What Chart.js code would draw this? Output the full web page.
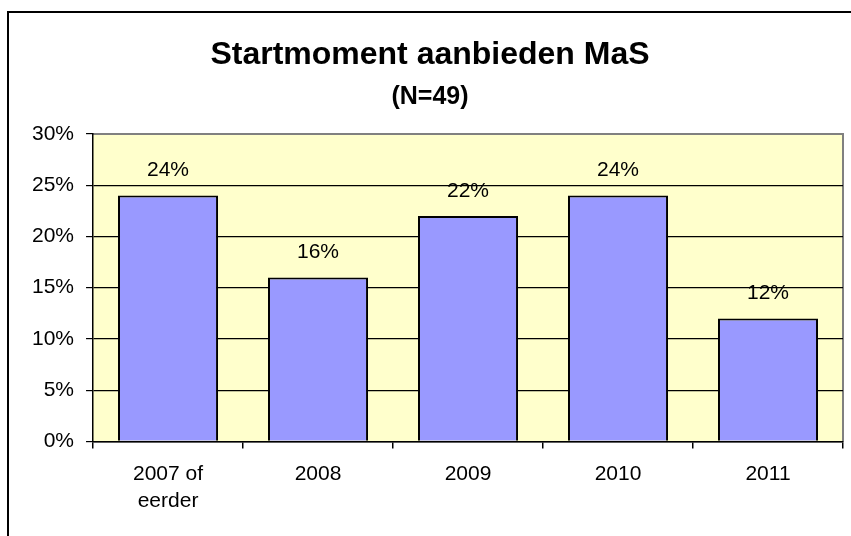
<!DOCTYPE html>
<html>
<head>
<meta charset="utf-8">
<script src="https://cdn.jsdelivr.net/npm/chart.js@4"></script>
<style>
  html, body { margin: 0; padding: 0; background: #fff; }
  #wrap { width: 851px; height: 536px; position: relative; }
</style>
</head>
<body>
<div id="wrap"><canvas id="chart"></canvas></div>
<script>
const categories = [['2007 of', 'eerder'], '2008', '2009', '2010', '2011']
const shares = [24, 16, 22, 24, 12]
const yMax = 30
const yStep = 5
const titleText = 'Startmoment aanbieden MaS'
const subtitleText = '(N=49)'

const FONT = '"Liberation Sans", Arial, sans-serif'

// outer frame, yellow plot area, titles
const frame = {
  id: 'frame',
  beforeDraw(chart) {
    const { ctx, chartArea: a } = chart
    ctx.save()
    ctx.fillStyle = '#fff'
    ctx.fillRect(0, 0, chart.width, chart.height)
    ctx.strokeStyle = '#000'
    ctx.lineWidth = 2
    ctx.strokeRect(8, 12, chart.width + 20, chart.height + 20)

    ctx.fillStyle = '#FFFFCC'
    ctx.fillRect(a.left, a.top, a.right - a.left, a.bottom - a.top)
    ctx.strokeStyle = '#808080'
    ctx.lineWidth = 2
    ctx.beginPath()
    ctx.moveTo(a.left, a.top)
    ctx.lineTo(a.right, a.top)
    ctx.lineTo(a.right, a.bottom)
    ctx.stroke()

    ctx.fillStyle = '#000'
    ctx.textAlign = 'center'
    ctx.textBaseline = 'middle'
    ctx.font = 'bold 32px ' + FONT
    ctx.fillText(titleText, 430, 55)
    ctx.font = 'bold 25px ' + FONT
    ctx.fillText(subtitleText, 430, 97)
    ctx.restore()
  },
  afterDatasetsDraw(chart) {
    const { ctx } = chart
    const meta = chart.getDatasetMeta(0)
    ctx.save()
    ctx.fillStyle = '#000'
    ctx.textAlign = 'center'
    ctx.textBaseline = 'middle'
    ctx.font = '21px ' + FONT
    meta.data.forEach((bar, i) => {
      ctx.fillText(shares[i] + '%', bar.x, bar.y - 25)
    })
    ctx.restore()
  }
}

new Chart(document.getElementById('chart'), {
  type: 'bar',
  data: {
    labels: categories,
    datasets: [{
      data: shares,
      backgroundColor: '#9999FF',
      borderColor: '#000',
      borderWidth: 2,
      barPercentage: 0.667,
      categoryPercentage: 1
    }]
  },
  options: {
    responsive: true,
    maintainAspectRatio: false,
    animation: false,
    layout: { padding: { left: 20, right: 8, top: 134, bottom: 9 } },
    plugins: {
      legend: { display: false },
      tooltip: { enabled: false }
    },
    scales: {
      x: {
        grid: {
          offset: true,
          drawOnChartArea: false,
          tickLength: 7,
          color: '#000',
          lineWidth: 1.5
        },
        border: { color: '#000', width: 1.5 },
        ticks: {
          color: '#000',
          padding: 12,
          maxRotation: 0,
          font: { family: FONT, size: 21, lineHeight: 1.3 }
        }
      },
      y: {
        min: 0,
        max: yMax,
        grid: {
          color: c => (c.tick && c.tick.value === yMax ? '#808080' : '#000'),
          tickColor: '#000',
          tickLength: 7,
          lineWidth: 1.2
        },
        border: { color: '#000', width: 1.5 },
        ticks: {
          stepSize: yStep,
          color: '#000',
          padding: 12,
          font: { family: FONT, size: 21 },
          callback: v => v + '%'
        }
      }
    }
  },
  plugins: [frame]
})
</script>
</body>
</html>
